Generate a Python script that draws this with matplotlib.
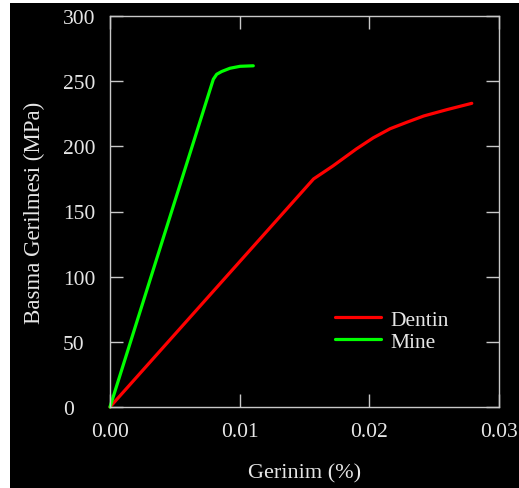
import matplotlib.pyplot as plt
from matplotlib.patches import Rectangle

# Stress-strain data
dentin_strain = [0.0, 0.0080, 0.0157, 0.0172, 0.0190, 0.0203, 0.0216, 0.0229, 0.0242, 0.0260, 0.0279]
dentin_stress = [0, 89.2, 175, 185, 198, 206.5, 213.5, 218.5, 223.3, 228.2, 233]

mine_strain = [0.0, 0.0040, 0.00797, 0.00823, 0.00861, 0.00925, 0.01003, 0.01105]
mine_stress = [0, 126.3, 251.5, 255.3, 257.4, 259.9, 261.4, 261.8]

xticks = [0.0, 0.01, 0.02, 0.03]
xtick_labels = ['0.00', '0.01', '0.02', '0.03']
yticks = [0, 50, 100, 150, 200, 250, 300]

fg = '#e6e6e6'
serif = ['Liberation Serif', 'DejaVu Serif']

fig = plt.figure(figsize=(5.19, 4.89), dpi=100, facecolor='black')
# thin white margin on the left and top
fig.add_artist(Rectangle((0, 0), 10 / 519, 1, transform=fig.transFigure,
                         facecolor='white', edgecolor='none', zorder=-1))
fig.add_artist(Rectangle((0, 1 - 4 / 489), 1, 4 / 489, transform=fig.transFigure,
                         facecolor='white', edgecolor='none', zorder=-1))

ax = fig.add_axes([110 / 519, 1 - 408 / 489, (499 - 110) / 519, (408 - 17) / 489])
ax.set_facecolor('black')

ax.plot(dentin_strain, dentin_stress, color='#ff0000', lw=2.3, label='Dentin',
        solid_capstyle='round', solid_joinstyle='round', clip_on=False)
ax.plot(mine_strain, mine_stress, color='#00ff00', lw=2.3, label='Mine',
        solid_capstyle='round', solid_joinstyle='round', clip_on=False)

ax.set_xlim(0, 0.03)
ax.set_ylim(0, 300)
ax.set_xticks(xticks)
ax.set_xticklabels(xtick_labels)
ax.set_yticks(yticks)

for s in ax.spines.values():
    s.set_color('#c8c8c8')
    s.set_linewidth(1.0)

ax.tick_params(direction='in', length=9.5, width=1, color='#c8c8c8',
               top=True, right=True, labelcolor=fg, labelsize=15.5)
ax.tick_params(axis='x', pad=10.5)
ax.tick_params(axis='y', pad=34)
for lbl in ax.get_xticklabels() + ax.get_yticklabels():
    lbl.set_family(serif)
for lbl in ax.get_yticklabels():
    lbl.set_horizontalalignment('left')

ax.set_xlabel('Gerinim (%)', color=fg, fontsize=16, family=serif, labelpad=16)
ax.set_ylabel('Basma Gerilmesi (MPa)', color=fg, fontsize=16.5, family=serif, labelpad=13)

leg = ax.legend(loc='upper left', bbox_to_anchor=(0.578, 0.249), frameon=False,
                prop={'family': serif, 'size': 15.5}, handlelength=2.15,
                handletextpad=0.42, labelspacing=0.1, borderpad=0,
                borderaxespad=0)
for t in leg.get_texts():
    t.set_color(fg)

fig.savefig('out.png', dpi=100, facecolor=fig.get_facecolor())
